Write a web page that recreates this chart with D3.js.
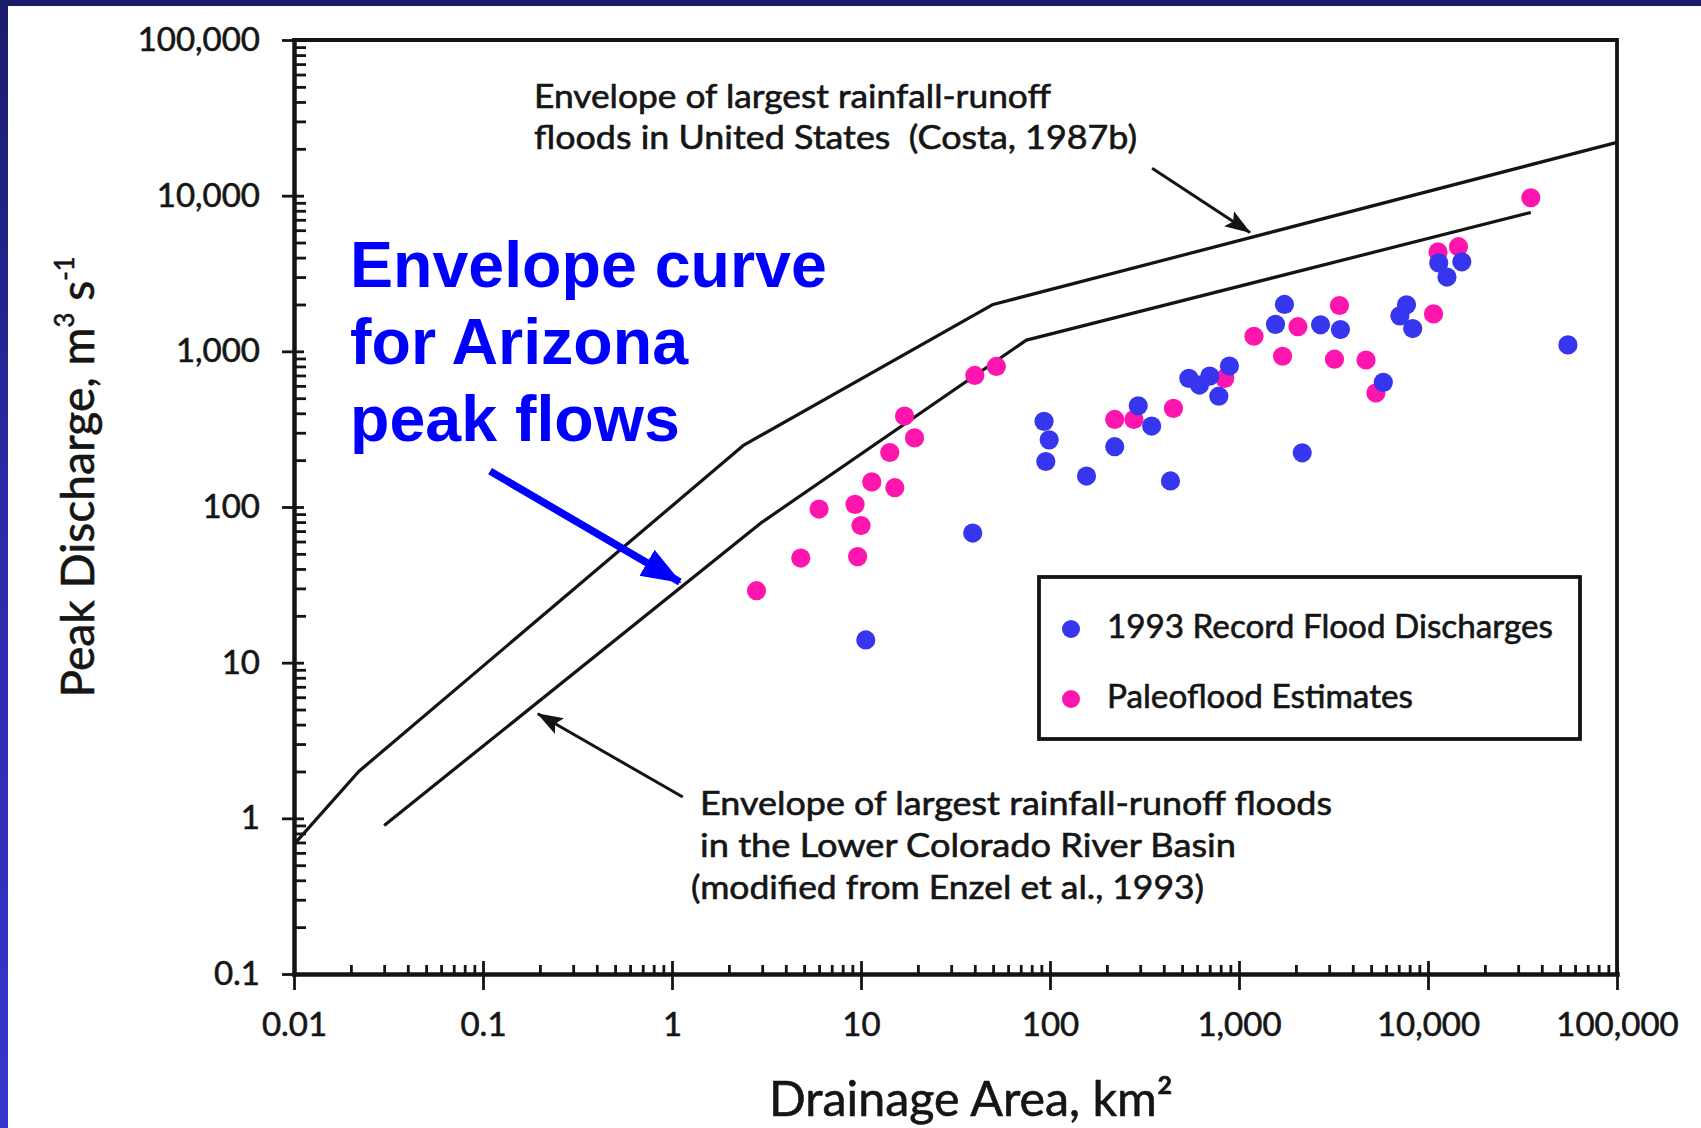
<!DOCTYPE html>
<html><head><meta charset="utf-8">
<script src="https://cdn.jsdelivr.net/npm/d3@7"></script>
<style>
html,body{margin:0;padding:0;background:#fff;}
svg{display:block;}
</style></head><body>
<svg id="chart" width="1701" height="1128"></svg>
<script>
// ---------- data ----------
const xTickValues = [0.01, 0.1, 1, 10, 100, 1000, 10000, 100000];
const xTickLabels = ["0.01", "0.1", "1", "10", "100", "1,000", "10,000", "100,000"];
const yTickValues = [0.1, 1, 10, 100, 1000, 10000, 100000];
const yTickLabels = ["0.1", "1", "10", "100", "1,000", "10,000", "100,000"];

// Envelope of largest rainfall-runoff floods in United States (Costa, 1987b)
const usEnvelopeArea = [0.01, 0.022, 2.4, 50, 100000];
const usEnvelopeQ    = [0.68, 2.0, 250, 2000, 22000];
// Envelope for the Lower Colorado River Basin (Arizona)
const lcrEnvelopeArea = [0.03, 3, 75, 35000];
const lcrEnvelopeQ    = [0.9, 80, 1180, 7800];

// Paleoflood Estimates
const paleoArea = [2.8, 4.8, 9.6, 6.0, 9.3, 10, 11.4, 15.1, 14.2, 19.2, 17, 40, 52, 220, 278, 450, 840, 1200, 1700, 2050, 3400, 3200, 4700, 5300, 10700, 11300, 14500, 35000];
const paleoQ    = [29, 47, 48, 97, 104, 76, 145, 133, 224, 278, 384, 700, 800, 365, 365, 430, 670, 1250, 930, 1440, 1970, 890, 880, 540, 1740, 4350, 4700, 9700];
// 1993 Record Flood Discharges
const recordArea = [10.6, 39, 93, 99, 95, 156, 220, 293, 345, 434, 543, 618, 700, 782, 890, 1560, 1740, 2700, 3440, 2160, 5800, 7100, 7700, 8300, 11400, 15100, 12600, 55000];
const recordQ    = [14, 68, 355, 270, 196, 158, 244, 447, 331, 147, 670, 607, 693, 515, 804, 1490, 2000, 1480, 1380, 223, 632, 1690, 1990, 1400, 3700, 3760, 3000, 1100];

const legendLabels = ["1993 Record Flood Discharges", "Paleoflood Estimates"];

// ---------- setup ----------
const W = 1701, H = 1128;
const INK = "#141414";
const FONT = "Lato, 'Open Sans', sans-serif";
const BLUE_PT = "#3636ee", PINK_PT = "#fd15ad";
const svg = d3.select("#chart");
svg.append("rect").attr("width", W).attr("height", H).attr("fill", "#fff");

const defs = svg.append("defs");
const grad = defs.append("linearGradient").attr("id", "edge")
  .attr("x1", 0).attr("y1", 0).attr("x2", 0).attr("y2", 1);
grad.append("stop").attr("offset", "0%").attr("stop-color", "#1b1b6c");
grad.append("stop").attr("offset", "45%").attr("stop-color", "#2a2aa8");
grad.append("stop").attr("offset", "100%").attr("stop-color", "#3636cd");
defs.append("marker").attr("id", "blackHead").attr("markerUnits", "userSpaceOnUse")
  .attr("markerWidth", 28).attr("markerHeight", 20).attr("refX", 25).attr("refY", 10)
  .attr("orient", "auto")
  .append("path").attr("d", "M0,1 L26,10 L0,19 L5,10 Z").attr("fill", INK);
defs.append("marker").attr("id", "blueHead").attr("markerUnits", "userSpaceOnUse")
  .attr("markerWidth", 42).attr("markerHeight", 34).attr("refX", 38).attr("refY", 17)
  .attr("orient", "auto")
  .append("path").attr("d", "M0,2 L40,17 L0,32 Z").attr("fill", "#0000ff");

// slide frame
svg.append("rect").attr("x", 0).attr("y", 0).attr("width", 8).attr("height", H).attr("fill", "url(#edge)");
svg.append("rect").attr("x", 0).attr("y", 0).attr("width", W).attr("height", 6).attr("fill", "#1b1b6c");

const x = d3.scaleLog().domain([0.01, 100000]).range([294, 1617]);
const y = d3.scaleLog().domain([0.1, 100000]).range([974, 40]);
const [x0, x1] = x.domain(), [y0, y1] = y.domain();

const same = (a, b) => Math.abs(a - b) / b < 1e-6;
const minorX = x.ticks().filter(v => !xTickValues.some(t => same(v, t)));
const minorY = y.ticks().filter(v => !yTickValues.some(t => same(v, t)));

// frame (top and right)
svg.append("line").attr("x1", x(x0)).attr("x2", x(x1)).attr("y1", y(y1)).attr("y2", y(y1))
  .attr("stroke", INK).attr("stroke-width", 3.8).attr("stroke-linecap", "square");
svg.append("line").attr("x1", x(x1)).attr("x2", x(x1)).attr("y1", y(y1)).attr("y2", y(y0))
  .attr("stroke", INK).attr("stroke-width", 3.8);

function inkText(sel) {
  sel.attr("fill", "#151515").attr("stroke", "#151515").attr("stroke-width", 0.6);
}
function styleAxis(g, showDomain) {
  g.select(".domain").attr("stroke", showDomain ? INK : "none").attr("stroke-width", 4.5).attr("stroke-linecap", "square");
  g.selectAll(".tick line").attr("stroke", INK).attr("stroke-width", 2.8);
  g.selectAll(".tick text").attr("font-family", FONT).attr("font-size", 33).call(inkText);
}

// x axis
const gx = svg.append("g").attr("transform", `translate(0,${y(y0)})`)
  .call(d3.axisBottom(x).tickValues(xTickValues).tickFormat((d, i) => xTickLabels[i])
    .tickSize(16).tickSizeOuter(0).tickPadding(23));
styleAxis(gx, true);
svg.append("g").attr("transform", `translate(0,${y(y0)})`)
  .call(d3.axisTop(x).tickValues(xTickValues).tickFormat("").tickSize(13).tickSizeOuter(0))
  .call(g => styleAxis(g, false));
svg.append("g").attr("transform", `translate(0,${y(y0)})`)
  .call(d3.axisTop(x).tickValues(minorX).tickFormat("").tickSize(9).tickSizeOuter(0))
  .call(g => styleAxis(g, false));

// y axis
const gy = svg.append("g").attr("transform", `translate(${x(x0)},0)`)
  .call(d3.axisLeft(y).tickValues(yTickValues).tickFormat((d, i) => yTickLabels[i])
    .tickSize(12).tickSizeOuter(0).tickPadding(22));
styleAxis(gy, true);
svg.append("g").attr("transform", `translate(${x(x0)},0)`)
  .call(d3.axisRight(y).tickValues(yTickValues).tickFormat("").tickSize(10).tickSizeOuter(0))
  .call(g => styleAxis(g, false));
svg.append("g").attr("transform", `translate(${x(x0)},0)`)
  .call(d3.axisRight(y).tickValues(minorY).tickFormat("").tickSize(12).tickSizeOuter(0))
  .call(g => styleAxis(g, false));

// envelope curves
const line = d3.line().x(d => x(d[0])).y(d => y(d[1]));
svg.append("path").datum(usEnvelopeArea.map((a, i) => [a, usEnvelopeQ[i]]))
  .attr("d", line).attr("fill", "none").attr("stroke", INK).attr("stroke-width", 3.2)
  .attr("stroke-linejoin", "round");
svg.append("path").datum(lcrEnvelopeArea.map((a, i) => [a, lcrEnvelopeQ[i]]))
  .attr("d", line).attr("fill", "none").attr("stroke", INK).attr("stroke-width", 3.2)
  .attr("stroke-linejoin", "round");

// points
svg.append("g").selectAll("circle").data(paleoArea.map((a, i) => [a, paleoQ[i]]))
  .join("circle").attr("cx", d => x(d[0])).attr("cy", d => y(d[1])).attr("r", 9.6)
  .attr("fill", PINK_PT);
svg.append("g").selectAll("circle").data(recordArea.map((a, i) => [a, recordQ[i]]))
  .join("circle").attr("cx", d => x(d[0])).attr("cy", d => y(d[1])).attr("r", 9.6)
  .attr("fill", BLUE_PT);

// legend
const lg = svg.append("g");
lg.append("rect").attr("x", 1039).attr("y", 577).attr("width", 541).attr("height", 162)
  .attr("fill", "#fff").attr("stroke", INK).attr("stroke-width", 3.8);
const legendColors = [BLUE_PT, PINK_PT];
const legendWidths = [446, 306];
legendLabels.forEach((lab, i) => {
  lg.append("circle").attr("cx", 1071).attr("cy", 629 + i * 70).attr("r", 9).attr("fill", legendColors[i]);
  lg.append("text").attr("x", 1107).attr("y", 638 + i * 70).text(lab)
    .attr("font-family", FONT).attr("font-size", 32).call(inkText)
    .attr("textLength", legendWidths[i]).attr("lengthAdjust", "spacingAndGlyphs");
});

// annotations
function note(txt, xx, yy, w) {
  svg.append("text").attr("x", xx).attr("y", yy).text(txt)
    .attr("font-family", FONT).attr("font-size", 32).call(inkText)
    .style("white-space", "pre")
    .attr("textLength", w).attr("lengthAdjust", "spacingAndGlyphs");
}
note("Envelope of largest rainfall-runoff", 534, 108, 517);
note("floods in United States  (Costa, 1987b)", 534, 149, 603);
note("Envelope of largest rainfall-runoff floods", 700, 815, 632);
note("in the Lower Colorado River Basin", 700, 857, 536);
note("(modified from Enzel et al., 1993)", 691, 899, 513);

svg.append("line").attr("x1", x(347)).attr("y1", y(15000)).attr("x2", x(1143)).attr("y2", y(5800))
  .attr("stroke", INK).attr("stroke-width", 3).attr("marker-end", "url(#blackHead)");
svg.append("line").attr("x1", x(1.14)).attr("y1", y(1.37)).attr("x2", x(0.195)).attr("y2", y(4.7))
  .attr("stroke", INK).attr("stroke-width", 3).attr("marker-end", "url(#blackHead)");

// blue callout
const blueLines = ["Envelope curve", "for Arizona", "peak flows"];
const blueBase = [287, 364, 441];
blueLines.forEach((t, i) => {
  svg.append("text").attr("x", 350).attr("y", blueBase[i]).text(t)
    .attr("font-family", "'Liberation Sans', Arial, Helvetica, sans-serif")
    .attr("font-weight", "bold").attr("font-size", 64.5).attr("fill", "#0000ff");
});
svg.append("line").attr("x1", x(0.109)).attr("y1", y(170)).attr("x2", x(1.10)).attr("y2", y(33))
  .attr("stroke", "#0000ff").attr("stroke-width", 7.5).attr("marker-end", "url(#blueHead)");

// axis titles
const yt = svg.append("text").attr("transform", "translate(94,477) rotate(-90)")
  .attr("text-anchor", "middle").attr("font-family", FONT)
  .attr("font-size", 47).call(inkText)
  .attr("textLength", 441).attr("lengthAdjust", "spacingAndGlyphs");
yt.append("tspan").text("Peak Discharge, m");
yt.append("tspan").text("3").attr("font-size", 26).attr("dy", -20);
yt.append("tspan").text(" s").attr("dy", 20);
yt.append("tspan").text("-1").attr("font-size", 26).attr("dy", -20);

svg.append("text").attr("x", 769).attr("y", 1116)
  .attr("font-family", FONT)
  .attr("font-size", 48).call(inkText)
  .attr("textLength", 404).attr("lengthAdjust", "spacingAndGlyphs")
  .text("Drainage Area, km²");
</script>
</body></html>
